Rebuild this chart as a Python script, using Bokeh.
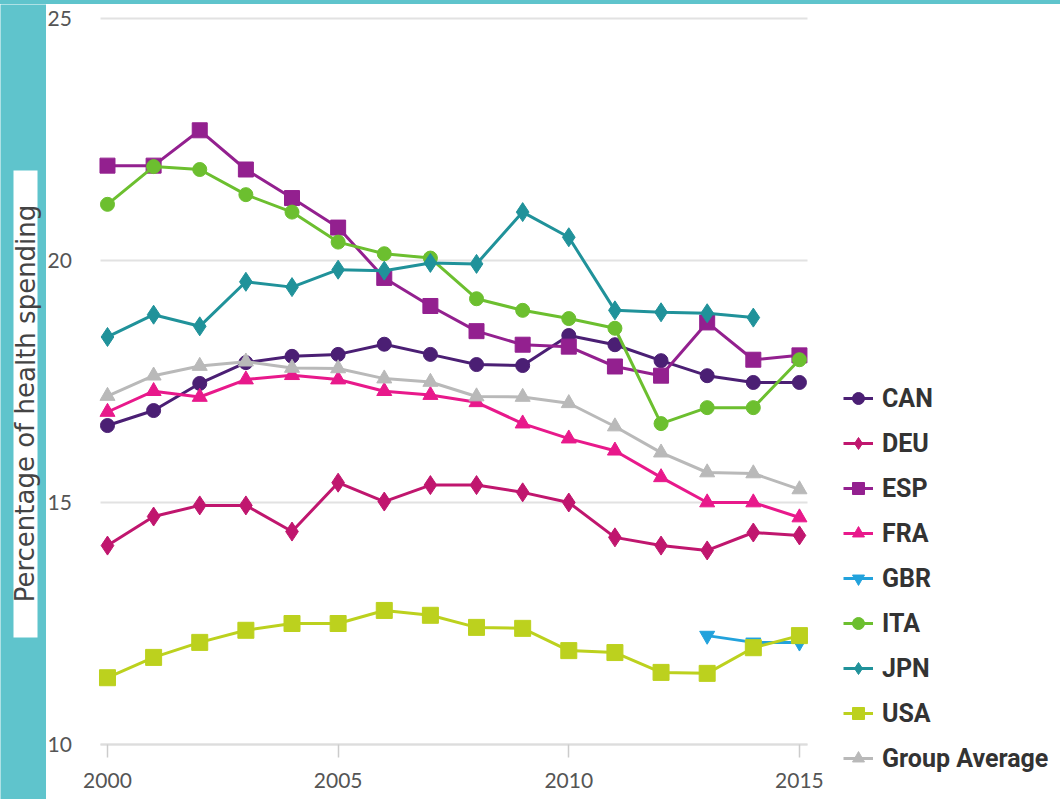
from bokeh.plotting import figure
from bokeh.models import Legend, LegendItem, FixedTicker, Spacer
from bokeh.core.properties import value
from bokeh.layouts import column, row
from bokeh.embed import file_html
from bokeh.resources import INLINE

years = list(range(2000, 2016))
can = [16.59, 16.90, 17.46, 17.89, 18.02, 18.06, 18.27, 18.06, 17.85, 17.83, 18.45, 18.26, 17.93, 17.62, 17.48, 17.48]
deu = [14.11, 14.71, 14.94, 14.94, 14.40, 15.41, 15.02, 15.36, 15.36, 15.21, 15.00, 14.28, 14.11, 14.01, 14.38, 14.32]
esp = [21.96, 21.96, 22.69, 21.88, 21.29, 20.68, 19.64, 19.06, 18.54, 18.26, 18.22, 17.81, 17.62, 18.72, 17.95, 18.04]
fra = [16.87, 17.30, 17.18, 17.54, 17.63, 17.54, 17.30, 17.22, 17.07, 16.63, 16.32, 16.07, 15.52, 15.00, 15.00, 14.69]
gbr_years = [2013, 2014, 2015]
gbr = [12.25, 12.11, 12.11]
ita = [21.16, 21.94, 21.88, 21.36, 21.00, 20.38, 20.14, 20.05, 19.21, 18.97, 18.80, 18.60, 16.63, 16.96, 16.96, 17.95]
jpn_years = list(range(2000, 2015))
jpn = [18.42, 18.88, 18.64, 19.56, 19.45, 19.81, 19.79, 19.95, 19.93, 21.00, 20.48, 18.97, 18.93, 18.91, 18.82]
usa = [11.38, 11.80, 12.11, 12.36, 12.50, 12.50, 12.77, 12.67, 12.42, 12.40, 11.94, 11.90, 11.49, 11.47, 12.00, 12.25]
avg = [17.20, 17.62, 17.82, 17.91, 17.78, 17.77, 17.56, 17.49, 17.19, 17.18, 17.05, 16.57, 16.03, 15.62, 15.60, 15.27]

series = [
    ("CAN", years, can, "#4b1f74", "circle", 14),
    ("DEU", years, deu, "#c0166e", "diamond", 19),
    ("ESP", years, esp, "#93208f", "square", 15),
    ("FRA", years, fra, "#e8198b", "triangle", 15),
    ("GBR", gbr_years, gbr, "#22a2dc", "inverted_triangle", 15),
    ("ITA", years, ita, "#6cbf2f", "circle", 14),
    ("JPN", jpn_years, jpn, "#20929a", "diamond", 19),
    ("USA", years, usa, "#bcd11e", "square", 16),
    ("Group Average", years, avg, "#b9b9b9", "triangle", 15),
]

x_ticks = [2000, 2005, 2010, 2015]
y_ticks = [10, 15, 20, 25]
y_label = "Percentage of health spending"

TEAL = "#5fc4cc"

# visible window of the main canvas (it also hosts the tick labels and legend)
XL, XR = 1998.678, 2020.659
X0, X_DATA_END = 1999.848, 2015.17
Y0, Y1 = 8.864, 25.289

# ---- left teal strip carrying the y-axis title ----
side = figure(width=46, height=795, output_backend="svg", toolbar_location=None,
              x_range=(0, 46), y_range=(0, 795), x_axis_type=None, y_axis_type=None,
              min_border_left=0, min_border_right=0, min_border_top=0, min_border_bottom=0)
side.border_fill_color = TEAL
side.background_fill_color = TEAL
side.outline_line_color = None
side.quad(left=[13], right=[37], bottom=[162], top=[629], fill_color="white", line_color=None)
side.text(x=[25], y=[396], text=[y_label], angle=1.5707963, text_align="center",
          text_baseline="middle", text_font=value("DejaVu Sans"), text_font_size="26px",
          text_color="#444444")

# ---- main chart ----
p = figure(width=1014, height=795, output_backend="svg", toolbar_location=None,
           x_range=(XL, XR), y_range=(Y0, Y1),
           x_axis_location="above", y_axis_location="right",
           min_border_left=0, min_border_right=0, min_border_top=0, min_border_bottom=0)
p.border_fill_color = "white"
p.background_fill_color = "white"
p.outline_line_color = None

xax = p.xaxis[0]
xax.fixed_location = 10
xax.bounds = (X0, X_DATA_END)
xax.ticker = FixedTicker(ticks=x_ticks)
xax.axis_line_color = "#dddddd"
xax.axis_line_width = 2
xax.major_tick_line_color = "#cccccc"
xax.major_tick_line_width = 1.5
xax.major_tick_in = 13
xax.major_tick_out = 0
xax.minor_tick_line_color = None
xax.major_label_standoff = -43

yax = p.yaxis[0]
yax.fixed_location = X0
yax.ticker = FixedTicker(ticks=y_ticks)
yax.axis_line_color = None
yax.major_tick_line_color = None
yax.major_tick_in = 0
yax.major_tick_out = 0
yax.minor_tick_line_color = None
yax.major_label_standoff = -53

for ax in (xax, yax):
    ax.major_label_text_font = "Lato"
    ax.major_label_text_font_size = "21px"
    ax.major_label_text_color = "#555555"

p.xgrid.grid_line_color = None
grid = p.ygrid[0]
grid.ticker = FixedTicker(ticks=y_ticks)
grid.grid_line_color = "#e2e2e2"
grid.grid_line_width = 2
if "cross_bounds" in grid.properties():
    grid.cross_bounds = (X0, X_DATA_END)
else:
    grid.visible = False
    p.segment(x0=[X0] * len(y_ticks), x1=[X_DATA_END] * len(y_ticks), y0=y_ticks, y1=y_ticks,
              line_color="#e2e2e2", line_width=2)

items = []
for name, xs, ys, color, marker, size in series:
    ln = p.line(xs, ys, line_color=color, line_width=3)
    sc = p.scatter(xs, ys, marker=marker, size=size, fill_color=color, line_color=color)
    items.append(LegendItem(label=name, renderers=[ln, sc]))

legend = Legend(items=items, location=(797, 26))
legend.padding = 0
legend.margin = 0
legend.spacing = 15
legend.glyph_width = 30
legend.glyph_height = 30
legend.label_height = 30
legend.label_standoff = 9
legend.label_text_font = "Roboto"
legend.label_text_font_style = "bold"
legend.label_text_font_size = "25px"
legend.label_text_color = "#333333"
legend.border_line_color = None
legend.background_fill_alpha = 0
p.add_layout(legend, "center")

top_strip = Spacer(width=1060, height=4, styles={"background-color": TEAL})
layout = column(top_strip, row(side, p, spacing=0), spacing=0)

open("out.html", "w").write(file_html(layout, INLINE))
